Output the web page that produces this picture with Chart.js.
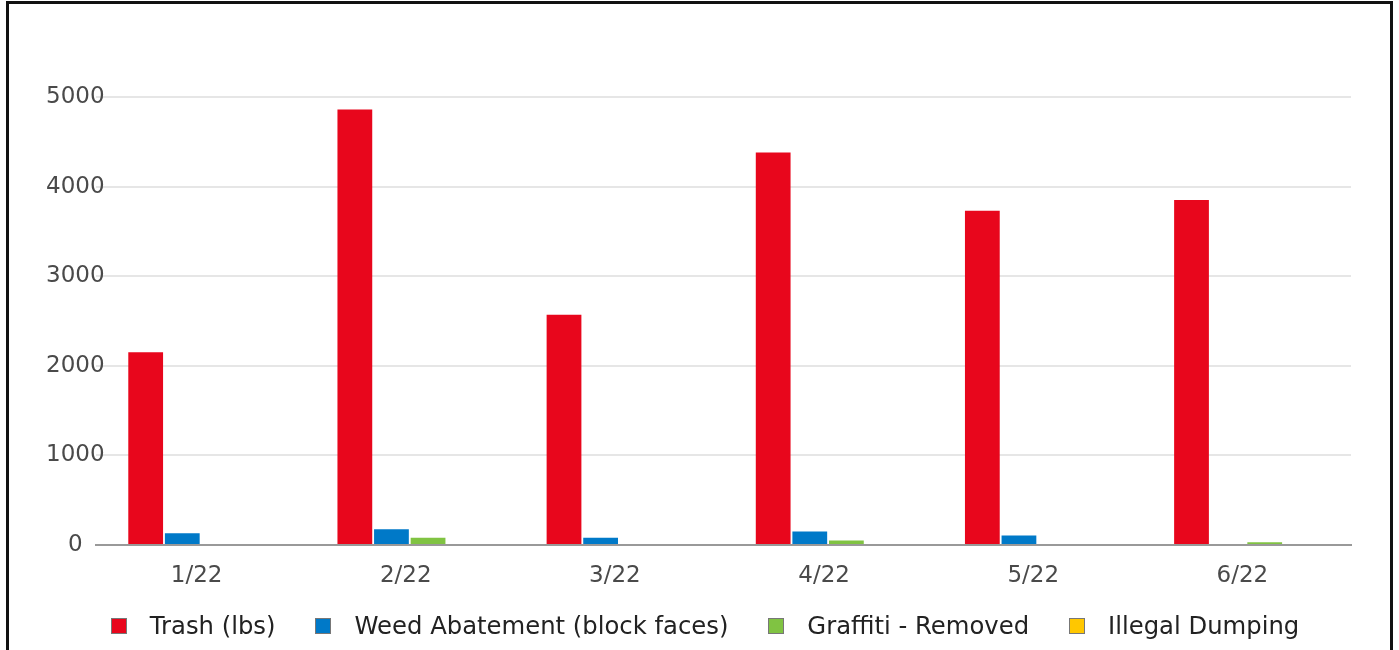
<!DOCTYPE html>
<html>
<head>
<meta charset="utf-8">
<script src="https://cdn.jsdelivr.net/npm/chart.js@4"></script>
<style>
  html, body { margin: 0; padding: 0; background: #fff; overflow: hidden; }
  #frame {
    position: absolute; left: 6px; top: 1px; width: 1381px; height: 700px;
    border: 3px solid #111;
  }
  #chart { position: absolute; left: 0; top: 0; }
  #legend {
    position: absolute; left: 0; top: 611px; width: 1410px;
    display: flex; justify-content: center; align-items: center;
    font-family: "DejaVu Sans", sans-serif; font-size: 24.3px; color: #222;
  }
  .item { display: flex; align-items: center; margin: 0 20px; }
  .box { width: 14px; height: 14px; border: 1px solid #777; margin-right: 23px; }
</style>
</head>
<body>
<div id="frame"></div>
<canvas id="chart" width="1399" height="650"></canvas>
<div id="legend"></div>
<script>
// Data
const months = ['1/22', '2/22', '3/22', '4/22', '5/22', '6/22'];
const trash = [2150, 4860, 2570, 4380, 3730, 3850];
const weed = [130, 175, 80, 150, 105, 0];
const graffiti = [0, 80, 0, 50, 0, 30];
const dumping = [0, 0, 0, 0, 0, 0];
const yTicks = [0, 1000, 2000, 3000, 4000, 5000];

const seriesNames = ['Trash (lbs)', 'Weed Abatement (block faces)', 'Graffiti - Removed', 'Illegal Dumping'];
const seriesColors = ['#e8061c', '#0079c8', '#80c342', '#ffc700'];
const seriesData = [trash, weed, graffiti, dumping];

const datasets = seriesNames.map((name, i) => ({
  label: name,
  data: seriesData[i],
  backgroundColor: seriesColors[i],
  borderWidth: 0
}));

const ctx = document.getElementById('chart').getContext('2d');
new Chart(ctx, {
  type: 'bar',
  data: { labels: months, datasets: datasets },
  options: {
    responsive: false,
    animation: false,
    layout: { padding: { top: 97, right: 48, left: 0, bottom: 0 } },
    datasets: { bar: { categoryPercentage: 0.7, barPercentage: 0.95 } },
    scales: {
      x: {
        grid: { display: false, drawTicks: false },
        border: { display: true, color: '#999', width: 2 },
        ticks: {
          font: { family: 'DejaVu Sans', size: 23 },
          color: '#4a4a4a',
          padding: 17,
          labelOffset: -4
        },
        afterFit: scale => { scale.height = 105; }
      },
      y: {
        min: 0,
        max: 5000,
        afterBuildTicks: scale => { scale.ticks = yTicks.map(v => ({ value: v })); },
        grid: { color: '#e6e6e6', lineWidth: 2, drawTicks: false },
        border: { display: false },
        ticks: {
          font: { family: 'DejaVu Sans', size: 23 },
          color: '#4a4a4a',
          mirror: true,
          crossAlign: 'center',
          padding: -50,
          callback: v => String(v)
        },
        afterFit: scale => { scale.width = 96; }
      }
    },
    plugins: {
      legend: { display: false },
      tooltip: { enabled: false }
    }
  }
});

// HTML legend
const legend = document.getElementById('legend');
seriesNames.forEach((name, i) => {
  const item = document.createElement('div');
  item.className = 'item';
  const box = document.createElement('span');
  box.className = 'box';
  box.style.background = seriesColors[i];
  const text = document.createElement('span');
  text.textContent = name;
  item.appendChild(box);
  item.appendChild(text);
  legend.appendChild(item);
});
</script>
</body>
</html>
